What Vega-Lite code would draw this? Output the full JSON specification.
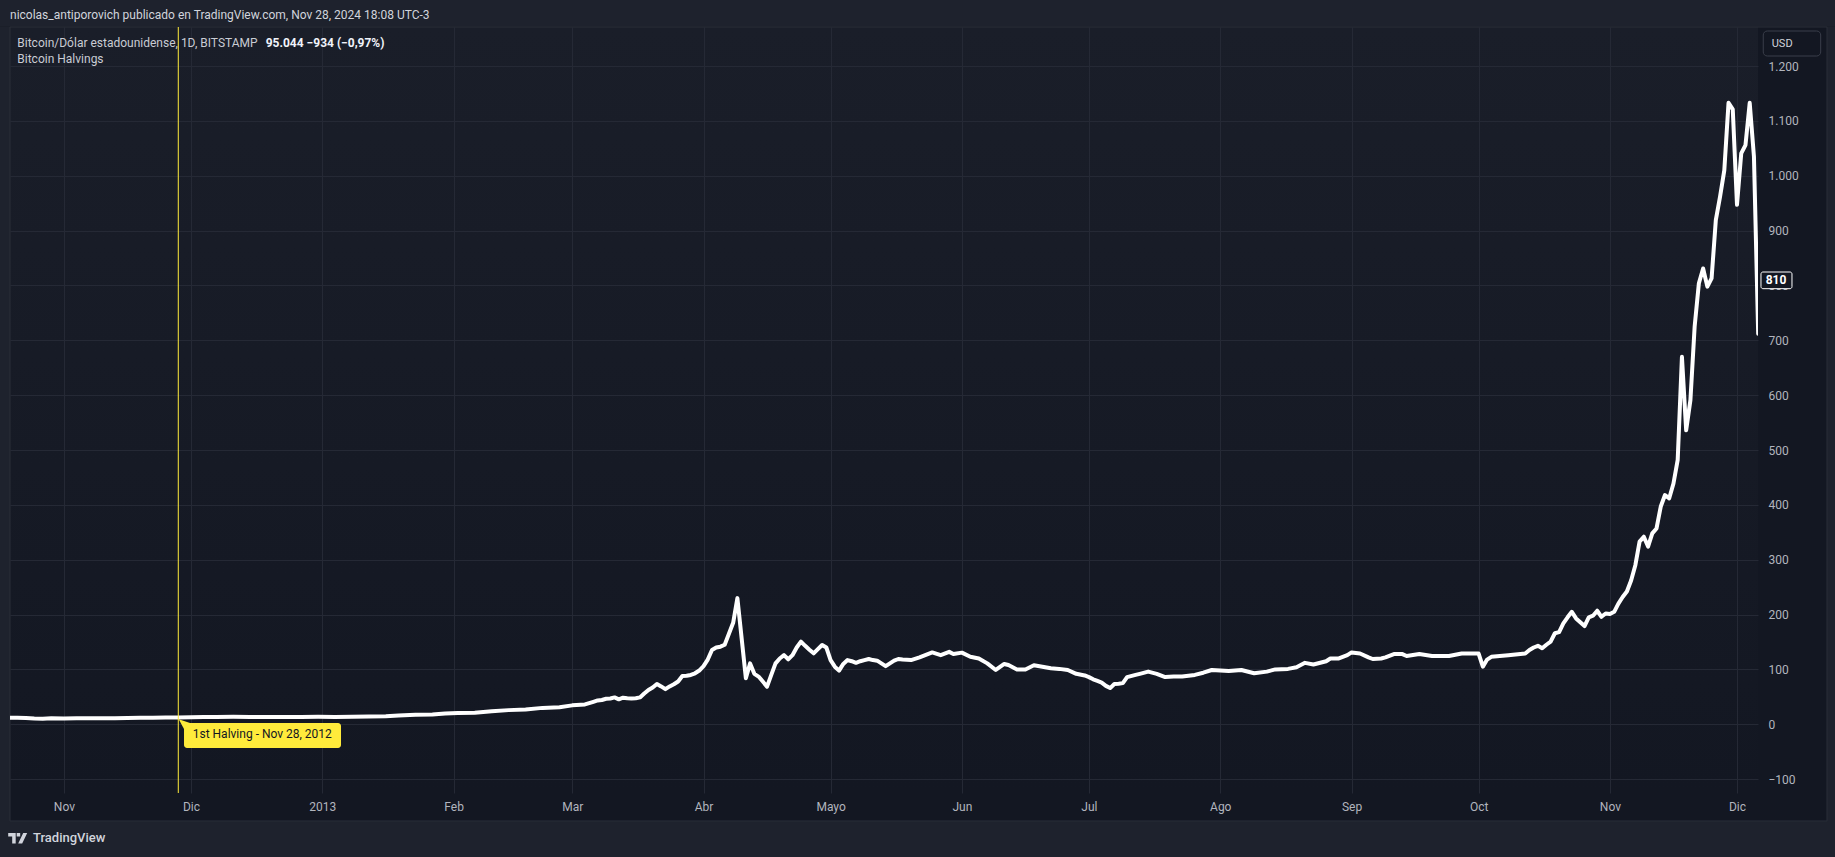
{
  "$schema": "https://vega.github.io/schema/vega-lite/v6.json",
  "width": 1748,
  "height": 766,
  "autosize": {"type": "none"},
  "padding": {"left": 10, "top": 27, "right": 77, "bottom": 64},
  "background": "#131722",
  "config": {
    "font": "Roboto",
    "view": {
      "stroke": null,
      "fill": {"gradient": "linear", "x1": 0, "y1": 0, "x2": 0, "y2": 1,
        "stops": [{"offset": 0, "color": "#1a1e29"}, {"offset": 1, "color": "#131722"}]}
    },
    "axis": {
      "domain": false, "ticks": false, "tickSize": 0,
      "gridColor": "#252935", "gridWidth": 1,
      "labelColor": "#b2b5be", "labelFont": "Roboto", "labelFontSize": 12
    }
  },
  "datasets": {
    "price": [
      {"date": "2012-10-19", "close": 11.9}, {"date": "2012-10-21", "close": 11.8}, {"date": "2012-10-23", "close": 11.5},
      {"date": "2012-10-25", "close": 10.6}, {"date": "2012-10-27", "close": 10.2}, {"date": "2012-10-29", "close": 10.8},
      {"date": "2012-11-01", "close": 10.6}, {"date": "2012-11-04", "close": 10.8}, {"date": "2012-11-07", "close": 10.9},
      {"date": "2012-11-10", "close": 10.8}, {"date": "2012-11-13", "close": 10.9}, {"date": "2012-11-16", "close": 11.4},
      {"date": "2012-11-19", "close": 11.7}, {"date": "2012-11-22", "close": 11.8}, {"date": "2012-11-25", "close": 12.3},
      {"date": "2012-11-28", "close": 12.4}, {"date": "2012-12-01", "close": 12.6}, {"date": "2012-12-04", "close": 13.1},
      {"date": "2012-12-07", "close": 13.4}, {"date": "2012-12-11", "close": 13.5}, {"date": "2012-12-15", "close": 13.4},
      {"date": "2012-12-19", "close": 13.3}, {"date": "2012-12-23", "close": 13.4}, {"date": "2012-12-27", "close": 13.4},
      {"date": "2012-12-31", "close": 13.5}, {"date": "2013-01-04", "close": 13.3}, {"date": "2013-01-08", "close": 13.7},
      {"date": "2013-01-12", "close": 14.2}, {"date": "2013-01-16", "close": 14.5}, {"date": "2013-01-19", "close": 15.8},
      {"date": "2013-01-23", "close": 17.4}, {"date": "2013-01-27", "close": 17.8}, {"date": "2013-01-30", "close": 19.6},
      {"date": "2013-02-02", "close": 20.4}, {"date": "2013-02-06", "close": 21.1}, {"date": "2013-02-10", "close": 23.6},
      {"date": "2013-02-14", "close": 25.8}, {"date": "2013-02-18", "close": 26.9}, {"date": "2013-02-22", "close": 29.9},
      {"date": "2013-02-26", "close": 31.0}, {"date": "2013-03-01", "close": 34.5}, {"date": "2013-03-04", "close": 36.2},
      {"date": "2013-03-06", "close": 41.0}, {"date": "2013-03-07", "close": 43.5}, {"date": "2013-03-08", "close": 44.3},
      {"date": "2013-03-09", "close": 46.5}, {"date": "2013-03-10", "close": 47.0}, {"date": "2013-03-11", "close": 49.0},
      {"date": "2013-03-12", "close": 45.5}, {"date": "2013-03-13", "close": 48.5}, {"date": "2013-03-14", "close": 47.5},
      {"date": "2013-03-15", "close": 47.0}, {"date": "2013-03-16", "close": 47.5}, {"date": "2013-03-17", "close": 49.0},
      {"date": "2013-03-18", "close": 56.0}, {"date": "2013-03-19", "close": 62.5}, {"date": "2013-03-20", "close": 67.0},
      {"date": "2013-03-21", "close": 73.5}, {"date": "2013-03-22", "close": 69.0}, {"date": "2013-03-23", "close": 64.0},
      {"date": "2013-03-24", "close": 69.0}, {"date": "2013-03-25", "close": 73.0}, {"date": "2013-03-26", "close": 78.0},
      {"date": "2013-03-27", "close": 88.0}, {"date": "2013-03-28", "close": 88.5}, {"date": "2013-03-29", "close": 90.0},
      {"date": "2013-03-30", "close": 93.0}, {"date": "2013-03-31", "close": 98.0}, {"date": "2013-04-01", "close": 106.0},
      {"date": "2013-04-02", "close": 118.0}, {"date": "2013-04-03", "close": 135.5}, {"date": "2013-04-04", "close": 140.0},
      {"date": "2013-04-05", "close": 141.5}, {"date": "2013-04-06", "close": 145.0}, {"date": "2013-04-07", "close": 165.0},
      {"date": "2013-04-08", "close": 185.0}, {"date": "2013-04-09", "close": 230.0}, {"date": "2013-04-10", "close": 157.0},
      {"date": "2013-04-11", "close": 84.0}, {"date": "2013-04-12", "close": 111.0}, {"date": "2013-04-13", "close": 92.0},
      {"date": "2013-04-14", "close": 87.0}, {"date": "2013-04-15", "close": 78.0}, {"date": "2013-04-16", "close": 68.6},
      {"date": "2013-04-17", "close": 90.0}, {"date": "2013-04-18", "close": 111.0}, {"date": "2013-04-19", "close": 120.0},
      {"date": "2013-04-20", "close": 126.0}, {"date": "2013-04-21", "close": 118.5}, {"date": "2013-04-22", "close": 126.0},
      {"date": "2013-04-23", "close": 140.0}, {"date": "2013-04-24", "close": 150.6}, {"date": "2013-04-25", "close": 143.0},
      {"date": "2013-04-26", "close": 136.0}, {"date": "2013-04-27", "close": 129.4}, {"date": "2013-04-28", "close": 137.0},
      {"date": "2013-04-29", "close": 144.6}, {"date": "2013-04-30", "close": 140.0}, {"date": "2013-05-01", "close": 117.0},
      {"date": "2013-05-02", "close": 105.0}, {"date": "2013-05-03", "close": 97.8}, {"date": "2013-05-04", "close": 110.0},
      {"date": "2013-05-05", "close": 117.0}, {"date": "2013-05-06", "close": 115.0}, {"date": "2013-05-07", "close": 112.0},
      {"date": "2013-05-08", "close": 115.0}, {"date": "2013-05-09", "close": 117.0}, {"date": "2013-05-10", "close": 119.0},
      {"date": "2013-05-11", "close": 117.0}, {"date": "2013-05-12", "close": 116.0}, {"date": "2013-05-13", "close": 111.0},
      {"date": "2013-05-14", "close": 106.0}, {"date": "2013-05-15", "close": 111.0}, {"date": "2013-05-16", "close": 116.0},
      {"date": "2013-05-17", "close": 119.0}, {"date": "2013-05-18", "close": 118.0}, {"date": "2013-05-20", "close": 117.0},
      {"date": "2013-05-22", "close": 122.0}, {"date": "2013-05-25", "close": 131.0}, {"date": "2013-05-27", "close": 126.0},
      {"date": "2013-05-29", "close": 132.0}, {"date": "2013-05-30", "close": 128.0}, {"date": "2013-06-01", "close": 130.6},
      {"date": "2013-06-03", "close": 123.0}, {"date": "2013-06-05", "close": 120.0}, {"date": "2013-06-07", "close": 111.0},
      {"date": "2013-06-09", "close": 99.0}, {"date": "2013-06-11", "close": 110.0}, {"date": "2013-06-12", "close": 108.0},
      {"date": "2013-06-14", "close": 100.0}, {"date": "2013-06-16", "close": 100.0}, {"date": "2013-06-18", "close": 107.5},
      {"date": "2013-06-20", "close": 105.0}, {"date": "2013-06-22", "close": 102.0}, {"date": "2013-06-24", "close": 101.0},
      {"date": "2013-06-26", "close": 99.0}, {"date": "2013-06-28", "close": 92.0}, {"date": "2013-06-30", "close": 89.0},
      {"date": "2013-07-01", "close": 86.0}, {"date": "2013-07-02", "close": 82.0}, {"date": "2013-07-03", "close": 79.0},
      {"date": "2013-07-04", "close": 76.0}, {"date": "2013-07-05", "close": 70.0}, {"date": "2013-07-06", "close": 66.0},
      {"date": "2013-07-07", "close": 73.5}, {"date": "2013-07-08", "close": 74.0}, {"date": "2013-07-09", "close": 75.0},
      {"date": "2013-07-10", "close": 86.0}, {"date": "2013-07-12", "close": 90.0}, {"date": "2013-07-13", "close": 92.0},
      {"date": "2013-07-15", "close": 96.0}, {"date": "2013-07-17", "close": 92.0}, {"date": "2013-07-19", "close": 86.0},
      {"date": "2013-07-21", "close": 87.0}, {"date": "2013-07-23", "close": 87.0}, {"date": "2013-07-26", "close": 90.0},
      {"date": "2013-07-28", "close": 94.0}, {"date": "2013-07-30", "close": 99.0}, {"date": "2013-08-01", "close": 98.0},
      {"date": "2013-08-03", "close": 97.0}, {"date": "2013-08-06", "close": 99.0}, {"date": "2013-08-09", "close": 93.0},
      {"date": "2013-08-12", "close": 96.0}, {"date": "2013-08-14", "close": 100.0}, {"date": "2013-08-17", "close": 101.0},
      {"date": "2013-08-19", "close": 104.0}, {"date": "2013-08-21", "close": 112.0}, {"date": "2013-08-23", "close": 109.0},
      {"date": "2013-08-26", "close": 115.0}, {"date": "2013-08-27", "close": 120.0}, {"date": "2013-08-29", "close": 120.0},
      {"date": "2013-08-31", "close": 126.0}, {"date": "2013-09-01", "close": 131.0}, {"date": "2013-09-03", "close": 129.0},
      {"date": "2013-09-05", "close": 122.0}, {"date": "2013-09-06", "close": 119.0}, {"date": "2013-09-08", "close": 120.0},
      {"date": "2013-09-09", "close": 122.0}, {"date": "2013-09-11", "close": 128.0}, {"date": "2013-09-13", "close": 128.0},
      {"date": "2013-09-14", "close": 124.5}, {"date": "2013-09-17", "close": 128.0}, {"date": "2013-09-20", "close": 124.5},
      {"date": "2013-09-24", "close": 124.5}, {"date": "2013-09-27", "close": 129.0}, {"date": "2013-09-30", "close": 129.0},
      {"date": "2013-10-01", "close": 129.0}, {"date": "2013-10-02", "close": 105.0}, {"date": "2013-10-03", "close": 118.0},
      {"date": "2013-10-04", "close": 123.0}, {"date": "2013-10-08", "close": 126.0}, {"date": "2013-10-12", "close": 129.0},
      {"date": "2013-10-13", "close": 135.5}, {"date": "2013-10-14", "close": 140.0}, {"date": "2013-10-15", "close": 143.0},
      {"date": "2013-10-16", "close": 138.6}, {"date": "2013-10-17", "close": 145.0}, {"date": "2013-10-18", "close": 150.6},
      {"date": "2013-10-19", "close": 166.0}, {"date": "2013-10-20", "close": 168.0}, {"date": "2013-10-21", "close": 184.0},
      {"date": "2013-10-22", "close": 195.0}, {"date": "2013-10-23", "close": 205.0}, {"date": "2013-10-24", "close": 193.0},
      {"date": "2013-10-25", "close": 186.0}, {"date": "2013-10-26", "close": 179.0}, {"date": "2013-10-27", "close": 195.0},
      {"date": "2013-10-28", "close": 198.0}, {"date": "2013-10-29", "close": 207.0}, {"date": "2013-10-30", "close": 196.0},
      {"date": "2013-10-31", "close": 202.0}, {"date": "2013-11-01", "close": 201.0}, {"date": "2013-11-02", "close": 205.0},
      {"date": "2013-11-03", "close": 220.0}, {"date": "2013-11-04", "close": 232.0}, {"date": "2013-11-05", "close": 242.0},
      {"date": "2013-11-06", "close": 262.0}, {"date": "2013-11-07", "close": 290.0}, {"date": "2013-11-08", "close": 333.0},
      {"date": "2013-11-09", "close": 342.0}, {"date": "2013-11-10", "close": 324.0}, {"date": "2013-11-11", "close": 348.0},
      {"date": "2013-11-12", "close": 357.0}, {"date": "2013-11-13", "close": 397.0}, {"date": "2013-11-14", "close": 418.0},
      {"date": "2013-11-15", "close": 412.0}, {"date": "2013-11-16", "close": 439.0}, {"date": "2013-11-17", "close": 482.0},
      {"date": "2013-11-18", "close": 670.0}, {"date": "2013-11-19", "close": 536.0}, {"date": "2013-11-20", "close": 591.0},
      {"date": "2013-11-21", "close": 725.0}, {"date": "2013-11-22", "close": 804.0}, {"date": "2013-11-23", "close": 831.0},
      {"date": "2013-11-24", "close": 798.0}, {"date": "2013-11-25", "close": 813.0}, {"date": "2013-11-26", "close": 919.0},
      {"date": "2013-11-27", "close": 962.0}, {"date": "2013-11-28", "close": 1010.0}, {"date": "2013-11-29", "close": 1133.0},
      {"date": "2013-11-30", "close": 1121.0}, {"date": "2013-12-01", "close": 947.0}, {"date": "2013-12-02", "close": 1041.0},
      {"date": "2013-12-03", "close": 1056.0}, {"date": "2013-12-04", "close": 1133.0}, {"date": "2013-12-05", "close": 1035.0},
      {"date": "2013-12-06", "close": 712.0}
    ]
  },
  "layer": [
    {
      "data": {"values": [{}]},
      "mark": {"type": "rect", "color": "#1e222d"},
      "encoding": {
        "x": {"datum": {"year": 2012, "month": 10, "date": 1, "utc": true}},
        "x2": {"datum": {"year": 2014, "month": 1, "date": 15, "utc": true}},
        "y": {"datum": 1400}, "y2": {"datum": 1272.2}
      }
    },
    {
      "data": {"values": [{}]},
      "mark": {"type": "rect", "color": "#1e222d"},
      "encoding": {
        "x": {"datum": {"year": 2012, "month": 10, "date": 1, "utc": true}},
        "x2": {"datum": {"year": 2014, "month": 1, "date": 15, "utc": true}},
        "y": {"datum": -176.3}, "y2": {"datum": -320}
      }
    },
    {
      "data": {"values": [{}]},
      "mark": {"type": "rect", "color": "#1e222d"},
      "encoding": {
        "x": {"datum": {"year": 2012, "month": 10, "date": 1, "utc": true}},
        "x2": {"datum": {"year": 2012, "month": 10, "date": 19, "hours": 6, "minutes": 24, "utc": true}},
        "y": {"datum": 1272.2}, "y2": {"datum": -176.3}
      }
    },
    {
      "data": {"values": [{}]},
      "mark": {"type": "rect", "color": "#1e222d"},
      "encoding": {
        "x": {"datum": {"year": 2013, "month": 12, "date": 22, "hours": 6, "utc": true}},
        "x2": {"datum": {"year": 2014, "month": 1, "date": 15, "utc": true}},
        "y": {"datum": 1272.2}, "y2": {"datum": -176.3}
      }
    },
    {
      "data": {"values": [{}]},
      "mark": {"type": "rect", "fill": "transparent", "stroke": "#2a2e39", "strokeWidth": 1},
      "encoding": {
        "x": {"datum": {"year": 2012, "month": 10, "date": 19, "hours": 6, "minutes": 24, "utc": true}},
        "x2": {"datum": {"year": 2013, "month": 12, "date": 22, "hours": 6, "utc": true}},
        "y": {"datum": 1271.3}, "y2": {"datum": -176.3}
      }
    },
    {
      "data": {"name": "price"},
      "mark": {"type": "line", "color": "#ffffff", "strokeWidth": 4, "strokeJoin": "round", "strokeCap": "round", "clip": true},
      "encoding": {
        "x": {
          "field": "date", "type": "temporal",
          "scale": {"type": "utc", "domain": [
            {"year": 2012, "month": 10, "date": 19, "hours": 6, "minutes": 24, "utc": true},
            {"year": 2013, "month": 12, "date": 5, "hours": 23, "utc": true}]},
          "axis": {
            "orient": "bottom", "title": null, "grid": true, "labelPadding": 8,
            "values": [
              {"year": 2012, "month": 11, "date": 1, "utc": true}, {"year": 2012, "month": 12, "date": 1, "utc": true},
              {"year": 2013, "month": 1, "date": 1, "utc": true}, {"year": 2013, "month": 2, "date": 1, "utc": true},
              {"year": 2013, "month": 3, "date": 1, "utc": true}, {"year": 2013, "month": 4, "date": 1, "utc": true},
              {"year": 2013, "month": 5, "date": 1, "utc": true}, {"year": 2013, "month": 6, "date": 1, "utc": true},
              {"year": 2013, "month": 7, "date": 1, "utc": true}, {"year": 2013, "month": 8, "date": 1, "utc": true},
              {"year": 2013, "month": 9, "date": 1, "utc": true}, {"year": 2013, "month": 10, "date": 1, "utc": true},
              {"year": 2013, "month": 11, "date": 1, "utc": true}, {"year": 2013, "month": 12, "date": 1, "utc": true}],
            "labelExpr": "utcmonth(datum.value) == 0 ? utcFormat(datum.value, '%Y') : ['Ene','Feb','Mar','Abr','Mayo','Jun','Jul','Ago','Sep','Oct','Nov','Dic'][utcmonth(datum.value)]"
          }
        },
        "y": {
          "field": "close", "type": "quantitative",
          "scale": {"domain": [-125.3, 1271.3], "nice": false, "zero": false},
          "axis": {
            "orient": "right", "title": null, "grid": true, "labelPadding": 10,
            "values": [-100, 0, 100, 200, 300, 400, 500, 600, 700, 800, 900, 1000, 1100, 1200],
            "labelExpr": "replace(format(datum.value, ','), ',', '.')"
          }
        }
      }
    },
    {
      "data": {"values": [{}]},
      "mark": {"type": "rule", "color": "#ffeb3b", "strokeWidth": 1},
      "encoding": {"x": {"datum": {"year": 2012, "month": 11, "date": 28, "utc": true}}}
    },
    {
      "data": {"values": [{}]},
      "mark": {"type": "rect", "color": "#ffeb3b", "cornerRadius": 3},
      "encoding": {
        "x": {"datum": {"year": 2012, "month": 11, "date": 29, "hours": 8, "minutes": 24, "utc": true}},
        "x2": {"datum": {"year": 2013, "month": 1, "date": 5, "hours": 10, "utc": true}},
        "y": {"datum": 2.4}, "y2": {"datum": -43.2}
      }
    },
    {
      "data": {"values": [{}]},
      "mark": {"type": "point", "filled": true, "color": "#ffeb3b", "opacity": 1, "size": 144, "shape": "M-0.88,-0.62L1,0L0,1Z"},
      "encoding": {
        "x": {"datum": {"year": 2012, "month": 11, "date": 29, "hours": 8, "minutes": 24, "utc": true}},
        "y": {"datum": 2.4}
      }
    },
    {
      "data": {"values": [{}]},
      "mark": {"type": "text", "text": "1st Halving - Nov 28, 2012", "align": "left", "baseline": "middle", "font": "Roboto", "fontSize": 12, "color": "#131722"},
      "encoding": {
        "x": {"datum": {"year": 2012, "month": 12, "date": 1, "hours": 9, "minutes": 40, "utc": true}},
        "y": {"datum": -18.2}
      }
    },
    {
      "data": {"values": [{}]},
      "mark": {"type": "text", "text": "nicolas_antiporovich publicado en TradingView.com, Nov 28, 2024 18:08 UTC-3", "align": "left", "baseline": "middle", "font": "Roboto", "fontSize": 12, "color": "#d1d4dc"},
      "encoding": {
        "x": {"datum": {"year": 2012, "month": 10, "date": 19, "hours": 6, "minutes": 24, "utc": true}},
        "y": {"datum": 1293.2}
      }
    },
    {
      "data": {"values": [{}]},
      "mark": {"type": "text", "text": "Bitcoin/Dólar estadounidense, 1D, BITSTAMP", "align": "left", "baseline": "middle", "font": "Roboto", "fontSize": 12, "color": "#c9ccd4"},
      "encoding": {
        "x": {"datum": {"year": 2012, "month": 10, "date": 20, "hours": 23, "minutes": 45, "utc": true}},
        "y": {"datum": 1242.7}
      }
    },
    {
      "data": {"values": [{}]},
      "mark": {"type": "text", "text": "95.044  −934 (−0,97%)", "align": "left", "baseline": "middle", "font": "Roboto", "fontSize": 12, "fontWeight": "bold", "color": "#f0f3fa"},
      "encoding": {
        "x": {"datum": {"year": 2012, "month": 12, "date": 18, "hours": 15, "minutes": 20, "utc": true}},
        "y": {"datum": 1242.7}
      }
    },
    {
      "data": {"values": [{}]},
      "mark": {"type": "text", "text": "Bitcoin Halvings", "align": "left", "baseline": "middle", "font": "Roboto", "fontSize": 12, "color": "#c9ccd4"},
      "encoding": {
        "x": {"datum": {"year": 2012, "month": 10, "date": 20, "hours": 23, "minutes": 45, "utc": true}},
        "y": {"datum": 1212.4}
      }
    },
    {
      "data": {"values": [{}]},
      "mark": {"type": "rect", "fill": "#131722", "stroke": "#3a3e4a", "strokeWidth": 1, "cornerRadius": 4},
      "encoding": {
        "x": {"datum": {"year": 2013, "month": 12, "date": 7, "hours": 4, "minutes": 50, "utc": true}},
        "x2": {"datum": {"year": 2013, "month": 12, "date": 20, "hours": 18, "minutes": 15, "utc": true}},
        "y": {"datum": 1264.0}, "y2": {"datum": 1218.4}
      }
    },
    {
      "data": {"values": [{}]},
      "mark": {"type": "text", "text": "USD", "align": "left", "baseline": "middle", "font": "Roboto", "fontSize": 11, "color": "#d1d4dc"},
      "encoding": {
        "x": {"datum": {"year": 2013, "month": 12, "date": 9, "hours": 4, "minutes": 50, "utc": true}},
        "y": {"datum": 1239.8}
      }
    },
    {
      "data": {"values": [{}]},
      "mark": {"type": "rect", "fill": "#131722", "stroke": "#ffffff", "strokeWidth": 1, "cornerRadius": 2},
      "encoding": {
        "x": {"datum": {"year": 2013, "month": 12, "date": 6, "hours": 15, "minutes": 50, "utc": true}},
        "x2": {"datum": {"year": 2013, "month": 12, "date": 13, "hours": 23, "minutes": 30, "utc": true}},
        "y": {"datum": 824.6}, "y2": {"datum": 794.2}
      }
    },
    {
      "data": {"values": [{}]},
      "mark": {"type": "text", "text": "810", "align": "center", "baseline": "middle", "font": "Roboto", "fontSize": 12, "fontWeight": "bold", "color": "#ffffff"},
      "encoding": {
        "x": {"datum": {"year": 2013, "month": 12, "date": 10, "hours": 4, "minutes": 50, "utc": true}},
        "y": {"datum": 809.4}
      }
    },
    {
      "data": {"values": [{}]},
      "mark": {"type": "point", "filled": true, "color": "#d1d4dc", "opacity": 1, "size": 400,
        "shape": "M-0.95,-0.5L-0.2,-0.5L-0.2,0.55L-0.55,0.55L-0.55,-0.15L-0.95,-0.15Z M-0.1,-0.5L0.25,-0.5L0.25,-0.15L-0.1,-0.15Z M0.55,-0.5L0.95,-0.5L0.45,0.55L0.05,0.55Z"},
      "encoding": {
        "x": {"datum": {"year": 2012, "month": 10, "date": 21, "hours": 2, "minutes": 0, "utc": true}},
        "y": {"datum": -207.3}
      }
    },
    {
      "data": {"values": [{}]},
      "mark": {"type": "text", "text": "TradingView", "align": "left", "baseline": "middle", "font": "Roboto", "fontSize": 13, "fontWeight": 500, "color": "#d1d4dc"},
      "encoding": {
        "x": {"datum": {"year": 2012, "month": 10, "date": 24, "hours": 16, "minutes": 50, "utc": true}},
        "y": {"datum": -207.3}
      }
    }
  ]
}
